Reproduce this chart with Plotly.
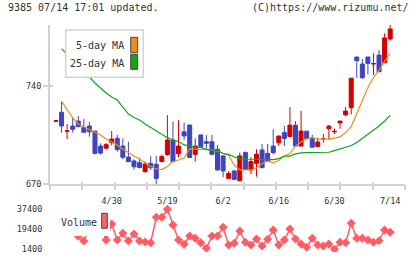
import plotly.graph_objects as go

# ---------------- data ----------------
dates = ["4/15", "4/16", "4/17", "4/20", "4/21", "4/22", "4/23", "4/24", "4/27", "4/28",
         "4/30", "5/1", "5/7", "5/8", "5/11", "5/12", "5/13", "5/14", "5/15", "5/18",
         "5/19", "5/20", "5/21", "5/22", "5/25", "5/26", "5/27", "5/28", "5/29", "6/1",
         "6/2", "6/3", "6/4", "6/5", "6/8", "6/9", "6/10", "6/11", "6/12", "6/15",
         "6/16", "6/17", "6/18", "6/19", "6/22", "6/23", "6/24", "6/25", "6/26", "6/29",
         "6/30", "7/1", "7/2", "7/3", "7/6", "7/7", "7/8", "7/9", "7/10", "7/13", "7/14"]

opens = [714.7, 721.0, 707.5, 711.3, 714.8, 710.3, 711.3, 707.7, 697.0, 695.5,
         699.4, 702.5, 697.0, 689.2, 686.4, 685.2, 678.8, 684.7, 684.0, 686.0,
         691.0, 701.3, 691.5, 707.2, 712.0, 691.1, 704.9, 700.1, 700.1, 694.7,
         690.0, 674.0, 679.3, 672.3, 692.5, 680.0, 684.7, 694.2, 691.8, 697.0,
         699.4, 706.6, 703.8, 711.9, 697.0, 707.6, 702.3, 696.6, 701.8, 709.4,
         707.2, 713.5, 719.2, 724.3, 760.4, 755.4, 760.4, 755.4, 761.8, 756.3, 773.3]
highs = [715.2, 728.6, 712.7, 717.2, 718.4, 716.3, 714.3, 707.7, 699.0, 699.2,
         707.7, 705.0, 702.5, 700.1, 687.6, 688.8, 686.0, 689.9, 690.0, 691.0,
         719.0, 714.5, 715.5, 713.6, 712.0, 702.5, 705.2, 704.9, 704.9, 697.8,
         690.5, 679.3, 680.0, 692.3, 693.0, 689.0, 694.7, 698.5, 698.5, 709.0,
         704.2, 711.3, 724.7, 714.8, 722.0, 707.8, 705.0, 703.0, 705.6, 712.1,
         709.4, 714.9, 725.0, 745.4, 760.5, 759.0, 760.5, 763.2, 765.4, 777.3, 783.2]
lows = [714.6, 706.5, 701.8, 706.5, 710.8, 706.8, 703.7, 691.0, 691.0, 694.5,
        697.5, 693.0, 687.6, 685.9, 680.2, 681.2, 678.0, 680.0, 670.0, 685.5,
        690.0, 685.9, 689.0, 701.3, 688.5, 685.9, 696.4, 695.0, 690.5, 679.5,
        674.8, 673.7, 672.7, 672.0, 680.0, 677.0, 675.2, 681.6, 685.9, 691.1,
        697.0, 697.0, 703.5, 697.0, 697.0, 702.2, 696.0, 696.4, 699.4, 701.5,
        705.5, 709.4, 718.2, 719.6, 745.5, 745.0, 748.0, 747.6, 749.9, 756.0, 772.0]
closes = [715.0, 711.3, 707.8, 708.9, 710.8, 706.8, 707.2, 691.8, 692.0, 698.0,
          702.0, 694.5, 689.0, 685.9, 682.3, 681.7, 684.2, 681.6, 674.0, 689.5,
          701.3, 685.9, 697.0, 704.2, 688.9, 697.0, 696.6, 699.0, 691.1, 680.0,
          679.3, 677.6, 673.3, 690.0, 680.4, 686.0, 691.1, 681.6, 686.3, 692.3,
          704.2, 702.4, 711.9, 697.0, 707.7, 702.3, 696.2, 699.9, 702.0, 711.2,
          707.5, 714.8, 721.9, 745.3, 757.8, 745.6, 755.9, 755.8, 749.9, 774.0, 780.4]

ma5 = [None, 729.0, 722.7, 717.0, 712.7, 710.6, 708.8, 707.0, 704.9, 702.0,
       699.9, 697.8, 694.9, 692.1, 689.9, 687.8, 685.3, 682.5, 680.7, 680.3,
       682.5, 686.0, 687.1, 688.5, 695.0, 694.9, 694.6, 694.6, 694.2, 693.5,
       692.1, 690.3, 683.5, 680.0, 680.0, 680.0, 681.4, 684.5, 686.5, 685.0,
       686.7, 689.9, 691.7, 697.0, 699.9, 702.0, 703.2, 702.0, 701.7, 702.0,
       702.7, 703.5, 706.6, 710.9, 719.9, 729.8, 738.7, 745.8, 751.1, 757.5, 762.9]
ma25 = [None, 766.4, 762.5, 758.3, 754.0, 749.7, 746.2, 741.9, 738.0, 734.8,
        731.9, 729.8, 724.8, 719.8, 717.3, 715.6, 712.7, 710.2, 708.1, 705.2,
        703.0, 701.3, 700.2, 697.8, 697.0, 696.3, 696.1, 694.7, 694.0, 693.7,
        691.7, 691.1, 689.2, 688.1, 687.8, 687.6, 687.4, 687.4, 687.4, 687.4,
        688.1, 689.9, 689.9, 691.4, 692.2, 692.4, 692.4, 692.4, 692.4, 692.6,
        693.8, 694.9, 696.3, 697.4, 699.5, 702.4, 705.2, 708.1, 711.3, 714.8, 718.8]

volume = [22000, 23000, 21000, 20000, 13000, 8650, 21000, 24000, 22000, 9560,
          24000, 9560, 15640, 8650, 15000, 8650, 7750, 7100, 30150, 30150,
          37400, 23160, 9560, 5660, 13190, 11100, 7100, 2030, 13190, 13190,
          21080, 5030, 6570, 17720, 7480, 5030, 10470, 4120, 10200, 18630,
          5030, 9560, 19540, 10470, 5930, 2940, 11100, 5030, 4120, 5930,
          1130, 7480, 7100, 24700, 11100, 11100, 9560, 7480, 8930, 18630, 16540]

label_dates = ["4/30", "5/19", "6/2", "6/16", "6/30", "7/14"]
price_ticks = [670, 740]
volume_ticks = [1400, 19400, 37400]

# ---------------- styling / layout ----------------
W, H = 420, 259
RED = "#d20000"
BLUE = "#3f45bf"
ORANGE = "#f08c1a"
GREEN = "#14a514"
VOLC = "#ff5c66"
AXC = "#d2d2d2"
TXT = "#333333"
FONT = "DejaVu Sans Mono"


def fx(p):
    return p / W


def fy(p):
    return 1 - p / H


xs = list(range(len(dates)))
x_range = [-1.077, 62.66]
n_div = 11
price_range = [670, 783.2]
vol_range = [-1320, 41300]

fig = go.Figure()

fig.add_trace(go.Candlestick(
    x=xs, open=opens, high=highs, low=lows, close=closes,
    increasing=dict(line=dict(color=RED, width=1), fillcolor=RED),
    decreasing=dict(line=dict(color=BLUE, width=1), fillcolor=BLUE),
    whiskerwidth=0, showlegend=False, hoverinfo="skip",
    xaxis="x", yaxis="y"))

fig.add_trace(go.Scatter(x=xs, y=ma5, mode="lines",
                         line=dict(color=ORANGE, width=1.2),
                         showlegend=False, xaxis="x", yaxis="y"))
fig.add_trace(go.Scatter(x=xs, y=ma25, mode="lines",
                         line=dict(color=GREEN, width=1.2),
                         showlegend=False, xaxis="x", yaxis="y"))

fig.add_trace(go.Scatter(x=xs, y=volume, mode="lines+markers",
                         line=dict(color=VOLC, width=1.5),
                         marker=dict(symbol="diamond", size=7, color=VOLC),
                         showlegend=False, xaxis="x2", yaxis="y2"))

# empty helper traces so the tick-only overlay axes get drawn
for xa in ("x3", "x4"):
    fig.add_trace(go.Scatter(x=[], y=[], xaxis=xa, yaxis="y", showlegend=False))
fig.add_trace(go.Scatter(x=[], y=[], xaxis="x", yaxis="y3", showlegend=False))

dom_x = [fx(50), fx(405)]
tick_font = dict(family=FONT, size=8.5, color=TXT)

fig.update_layout(
    width=W, height=H,
    margin=dict(l=0, r=0, t=0, b=0),
    paper_bgcolor="white", plot_bgcolor="white",
    template="none",
    showlegend=False,
    boxgap=0.1, boxgroupgap=0.2,
    xaxis=dict(domain=dom_x, anchor="y", range=x_range,
               tickmode="array", tickvals=[dates.index(d) for d in label_dates],
               ticktext=label_dates, ticks="outside", ticklen=8,
               tickcolor="rgba(0,0,0,0)", tickfont=tick_font,
               showline=True, linecolor=AXC, linewidth=2,
               showgrid=False, zeroline=False,
               rangeslider=dict(visible=False), automargin=False),
    xaxis3=dict(overlaying="x", anchor="y", range=x_range,
                tickmode="linear", tick0=x_range[0],
                dtick=(x_range[1] - x_range[0]) / n_div,
                ticks="outside", ticklen=5, tickwidth=2, tickcolor=AXC,
                showticklabels=False, showline=False, showgrid=False,
                zeroline=False, automargin=False),
    xaxis4=dict(overlaying="x", anchor="y", range=x_range,
                tickmode="linear", tick0=x_range[0],
                dtick=(x_range[1] - x_range[0]) / n_div,
                ticks="inside", ticklen=2, tickwidth=2, tickcolor=AXC,
                showticklabels=False, showline=False, showgrid=False,
                zeroline=False, automargin=False),
    yaxis=dict(domain=[fy(184), fy(25)], anchor="x", range=price_range,
               tickmode="array", tickvals=price_ticks,
               ticktext=[str(v) for v in price_ticks],
               ticks="outside", ticklen=5, tickwidth=2, tickcolor=AXC,
               tickfont=tick_font, showline=True, linecolor=AXC, linewidth=2,
               showgrid=False, zeroline=False, automargin=False),
    yaxis3=dict(overlaying="y", anchor="x", range=price_range,
                tickmode="array", tickvals=price_ticks,
                ticks="inside", ticklen=3, tickwidth=2, tickcolor=AXC,
                showticklabels=False, showline=False, showgrid=False,
                zeroline=False, automargin=False),
    xaxis2=dict(domain=dom_x, anchor="y2", range=x_range,
                showticklabels=False, ticks="", showline=False,
                showgrid=False, zeroline=False, automargin=False),
    yaxis2=dict(domain=[fy(252), fy(205)], anchor="x2", range=vol_range,
                tickmode="array", tickvals=volume_ticks,
                ticktext=[str(v) for v in volume_ticks],
                ticks="outside", ticklen=5, tickcolor="rgba(0,0,0,0)",
                tickfont=tick_font, showline=False, showgrid=False,
                zeroline=False, automargin=False),
)

# legend boxes (drawn over the lines, like the reference)
shapes = [
    dict(type="rect", xref="paper", yref="paper", layer="above",
         x0=fx(65.7), x1=fx(143.3), y0=fy(77.3), y1=fy(30),
         fillcolor="white", line=dict(color=AXC, width=1.5)),
    dict(type="rect", xref="paper", yref="paper", layer="above",
         x0=fx(130.7), x1=fx(137.7), y0=fy(52.7), y1=fy(37.3),
         fillcolor=ORANGE, line=dict(color="#444444", width=1)),
    dict(type="rect", xref="paper", yref="paper", layer="above",
         x0=fx(130.7), x1=fx(137.7), y0=fy(69.3), y1=fy(54.3),
         fillcolor=GREEN, line=dict(color="#444444", width=1)),
    dict(type="rect", xref="paper", yref="paper", layer="above",
         x0=fx(52), x1=fx(110), y0=fy(236), y1=fy(206),
         fillcolor="white", line=dict(width=0)),
    dict(type="rect", xref="paper", yref="paper", layer="above",
         x0=fx(101.7), x1=fx(107.3), y0=fy(228.3), y1=fy(213.3),
         fillcolor="#ff6464", line=dict(color="#444444", width=1)),
]
fig.update_layout(shapes=shapes)

ann_font = dict(family=FONT, size=10, color=TXT)
annotations = [
    dict(text="9385 07/14 17:01 updated.", x=fx(6), y=fy(7.5),
         xanchor="left", yanchor="middle"),
    dict(text="(C)https://www.rizumu.net/", x=fx(411), y=fy(7.5),
         xanchor="right", yanchor="middle"),
    dict(text="5-day MA", x=fx(126), y=fy(46), xanchor="right", yanchor="middle"),
    dict(text="25-day MA", x=fx(126), y=fy(63.7), xanchor="right", yanchor="middle"),
    dict(text="Volume", x=fx(58.5), y=fy(222.3), xanchor="left", yanchor="middle"),
]
for a in annotations:
    a.update(xref="paper", yref="paper", showarrow=False, font=ann_font)
fig.update_layout(annotations=annotations)

fig.write_html("out.html")
